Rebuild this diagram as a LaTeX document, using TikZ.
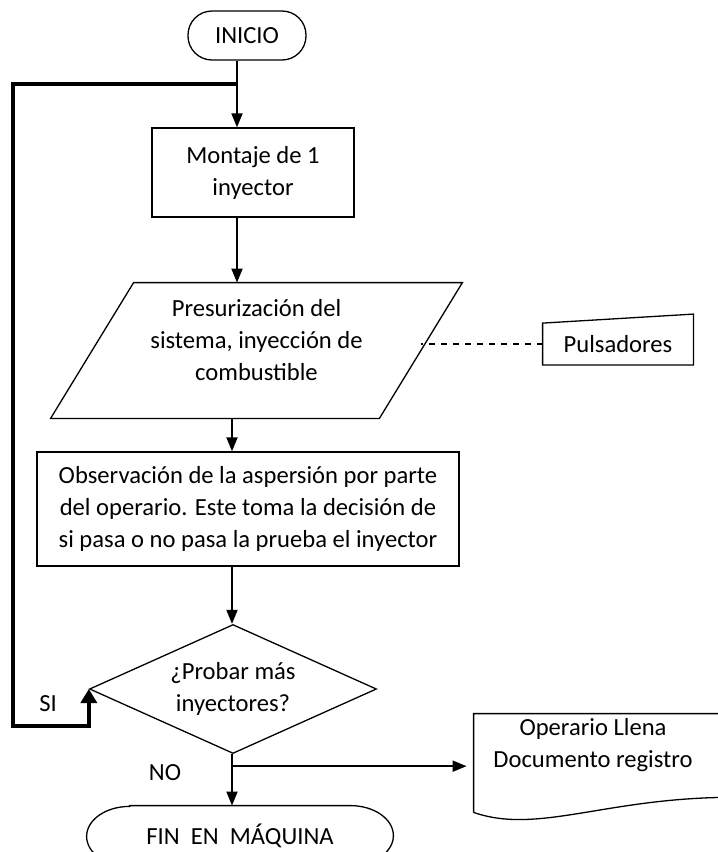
\documentclass[tikz,border=0pt]{standalone}
\usepackage{fontspec}
\setmainfont{Carlito}
\usetikzlibrary{arrows.meta,calc,positioning,shapes.geometric}
\newcommand{\flowfont}{\fontsize{12.3}{16}\selectfont}
\tikzset{
  >={Triangle[length=7pt,width=5.5pt]},
  fline/.style={black, line width=0.9pt},
  floop/.style={black, line width=2pt},
  fshape/.style={black, line width=0.65pt},
  fproc/.style={rectangle, draw=black, line width=0.65pt, align=center,
                font=\flowfont, inner sep=2pt},
  fterm/.style={rectangle, draw=black, line width=0.65pt, font=\flowfont},
  fdec/.style={diamond, aspect=2.2, draw=black, line width=0.65pt,
               align=center, font=\flowfont, inner sep=0pt},
  ftext/.style={align=center, font=\flowfont, inner sep=0pt},
  flbl/.style={font=\flowfont},
}

\begin{document}
\begin{tikzpicture}[x=0.5pt,y=-0.5pt]
  \useasboundingbox (0,0) rectangle (718,852);

  % the two vertical connector lines
  \coordinate (eje1) at (237,0);
  \coordinate (eje2) at (232,0);

  % main column
  \node[fterm, rounded corners=12pt, minimum width=59pt, minimum height=24.5pt] (inicio) at (247,35.5) {INICIO};
  \node[fproc, minimum width=101pt, minimum height=44.5pt] (montaje) at (253,172.5) {Montaje de 1\\inyector};
  \node[ftext, minimum width=205.5pt, minimum height=57pt] (presion) at (256.5,340)
        {Presurización del\\sistema, inyección de\\combustible};
  \draw[fshape] ($(presion.south west)+(0,21)$) -- ($(presion.north west)+(83,0)$)
        -- (presion.north east) -- ($(presion.south east)+(-83,21)$) -- cycle;
  \coordinate (pbase) at ($(presion.south)+(0,21)$);
  \coordinate (pborde) at ($(presion.north east)!0.5!($(presion.south east)+(-83,21)$)$);
  \node[fproc, minimum width=211pt, minimum height=57pt] (observa) at (248,509)
        {Observación de la aspersión por parte\\del operario. Este toma la decisión de\\si pasa o no pasa la prueba el inyector};
  \node[fdec, minimum width=143.5pt, minimum height=64.5pt] (pregunta) at (233,689) {¿Probar más\\inyectores?};
  \node[ftext, minimum width=153pt, minimum height=30pt] (fin) at (240,836) {FIN\ \ EN\ \ MÁQUINA};
  \draw[fshape] ($(fin.north west)+(43,0)$) -- ($(fin.north east)+(-43,0)$)
        arc[start angle=90, end angle=-90, x radius=21.5pt, y radius=15pt]
        -- ($(fin.south west)+(43,0)$)
        arc[start angle=270, end angle=90, x radius=21.5pt, y radius=15pt] -- cycle;

  % side nodes
  \node[ftext, minimum width=75pt, minimum height=20.5pt] (puls) at (618,344) {Pulsadores};
  \draw[fshape] (puls.south west) -- (puls.north west)
        -- ([yshift=4.5pt]puls.north east) -- (puls.south east) -- cycle;
  \node[ftext, minimum width=119pt, minimum height=31pt] (docu) at (593,745) {Operario Llena\\Documento registro};
  \draw[fshape] ($(docu.south west)+(0,36)$) -- (docu.north west)
        -- ($(docu.north east)+(30,0)$) -- ($(docu.south east)+(30,21)$)
        .. controls ($(docu.south west)+(136,19)$) and ($(docu.south west)+(66,59)$) .. ($(docu.south west)+(0,36)$);

  \node[flbl] (si) at (48,704) {SI};
  \node[flbl] (no) at (165,773) {NO};

  % connectors
  \coordinate (junta) at (237,84);
  \coordinate (esq) at (13,726);
  \coordinate (rama) at ($(pregunta.south)+(0,12)$);

  \draw[fline,->] (inicio.south -| eje1) -- (montaje.north -| eje1);
  \draw[fline,->] (montaje.south -| eje1) -- (presion.north -| eje1);
  \draw[fline,->] (pbase -| eje2) -- (observa.north -| eje2);
  \draw[fline,->] (observa.south -| eje2) -- (pregunta.north -| eje2);
  \draw[fline,->] (pregunta.south -| eje2) -- (fin.north -| eje2);
  \draw[fline,->, shorten >=3.5pt] (rama) -- (rama -| docu.west);
  \draw[fline, dashed, line width=0.65pt] (puls.west) -- (puls.west -| pborde);
  \draw[floop,->, >={Triangle[length=7pt,width=8pt]}] (junta) -| (esq) -| (pregunta.west);

\end{tikzpicture}
\end{document}
